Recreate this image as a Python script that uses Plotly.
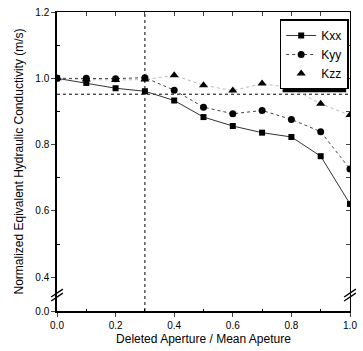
import plotly.graph_objects as go

x = [0.0, 0.1, 0.2, 0.3, 0.4, 0.5, 0.6, 0.7, 0.8, 0.9, 1.0]
kxx = [1.0, 0.986, 0.970, 0.961, 0.933, 0.883, 0.856, 0.836, 0.823, 0.765, 0.621]
kyy = [1.0, 1.0, 0.999, 1.002, 0.964, 0.913, 0.893, 0.903, 0.876, 0.839, 0.726]
kzz = [1.0, 0.996, 0.995, 0.996, 1.009, 0.979, 0.963, 0.984, 0.971, 0.923, 0.889]

ref_y = 0.952
ref_x = 0.3

y_bottom = 0.298   # position where the broken axis shows 0.0
y_break = 0.346
y_tickvals = [y_bottom, 0.4, 0.6, 0.8, 1.0, 1.2]
y_ticktext = ["0.0", "0.4", "0.6", "0.8", "1.0", "1.2"]
y_minor = [0.5, 0.7, 0.9, 1.1]
x_tickvals = [0.0, 0.2, 0.4, 0.6, 0.8, 1.0]
x_ticktext = ["0.0", "0.2", "0.4", "0.6", "0.8", "1.0"]

FONT = "Liberation Sans, Arial, sans-serif"

fig = go.Figure()

# reference lines
fig.add_trace(go.Scatter(x=[0, 1], y=[ref_y, ref_y], mode="lines",
                         line=dict(color="black", width=1, dash="dot"),
                         showlegend=False, hoverinfo="skip"))
fig.add_trace(go.Scatter(x=[ref_x, ref_x], y=[y_bottom, 1.2], mode="lines",
                         line=dict(color="black", width=1, dash="dot"),
                         showlegend=False, hoverinfo="skip"))

# faint Kzz connection
fig.add_trace(go.Scatter(x=x, y=kzz, mode="lines",
                         line=dict(color="#bbbbbb", width=1, dash="dot"),
                         showlegend=False, hoverinfo="skip"))

fig.add_trace(go.Scatter(x=x, y=kxx, mode="lines+markers", name="Kxx",
                         line=dict(color="#333333", width=1),
                         marker=dict(symbol="square", size=6, color="black")))
fig.add_trace(go.Scatter(x=x, y=kyy, mode="lines+markers", name="Kyy",
                         line=dict(color="#444444", width=1, dash="dot"),
                         marker=dict(symbol="circle", size=7, color="black")))
fig.add_trace(go.Scatter(x=x, y=kzz, mode="markers", name="Kzz",
                         marker=dict(symbol="triangle-up", size=8, color="black")))

# invisible traces for top/right mirrored axes
fig.add_trace(go.Scatter(x=[0, 1], y=[y_bottom, 1.2], xaxis="x2", yaxis="y2",
                         mode="markers", marker=dict(opacity=0), showlegend=False,
                         hoverinfo="skip"))

shapes = []
# legend shadow
shapes.append(dict(type="rect", xref="paper", yref="paper",
                   x0=0.77, x1=0.987, y0=0.732, y1=0.96,
                   fillcolor="black", line=dict(width=0), layer="above"))
# axis break marks
for xp in (0.0, 1.0):
    for dy in (-0.006, 0.006):
        shapes.append(dict(type="line", xref="paper", yref="y",
                           x0=xp - 0.02, x1=xp + 0.02,
                           y0=y_break + dy - 0.012, y1=y_break + dy + 0.012,
                           line=dict(color="black", width=1.3)))

fig.update_layout(
    width=363, height=351,
    margin=dict(l=57, r=6, t=10, b=40),
    paper_bgcolor="white", plot_bgcolor="white",
    font=dict(family=FONT, size=9, color="black"),
    showlegend=True,
    legend=dict(x=0.76, y=0.975, xanchor="left", yanchor="top",
                bgcolor="white", bordercolor="black", borderwidth=1.5,
                font=dict(size=12, family=FONT), tracegroupgap=0,
                itemwidth=30),
    xaxis=dict(range=[0, 1], tickvals=x_tickvals, ticktext=x_ticktext,
               ticks="outside", ticklen=4, tickwidth=1, showgrid=False,
               zeroline=False, showline=True, linecolor="black", linewidth=1.5,
               ticklabeloverflow="allow",
               minor=dict(tickvals=[0.1, 0.3, 0.5, 0.7, 0.9], ticks="inside",
                          ticklen=2, tickcolor="black"),
               title=dict(text="Deleted Aperture / Mean Apeture",
                          font=dict(size=12, family=FONT), standoff=5),
               tickfont=dict(size=10)),
    yaxis=dict(range=[y_bottom, 1.2], tickvals=y_tickvals, ticktext=y_ticktext,
               ticks="outside", ticklen=4, tickwidth=1, showgrid=False,
               zeroline=False, showline=True, linecolor="black", linewidth=1.5,
               minor=dict(tickvals=y_minor, ticks="inside", ticklen=3,
                          tickcolor="black"),
               title=dict(text="Normalized Eqivalent Hydraulic Conductivity (m/s)",
                          font=dict(size=12, family=FONT), standoff=9),
               tickfont=dict(size=10)),
    xaxis2=dict(range=[0, 1], overlaying="x", side="top",
                tickvals=[0.1 * i for i in range(11)], ticks="inside",
                ticklen=4, showticklabels=False, showgrid=False, zeroline=False,
                showline=True, linecolor="black", linewidth=1),
    yaxis2=dict(range=[y_bottom, 1.2], overlaying="y", side="right",
                tickvals=[0.4, 0.5, 0.6, 0.7, 0.8, 0.9, 1.0, 1.1], ticks="inside",
                ticklen=4, showticklabels=False, showgrid=False, zeroline=False,
                showline=True, linecolor="black", linewidth=1.2),
    shapes=shapes,
)

fig.write_html("out.html")
